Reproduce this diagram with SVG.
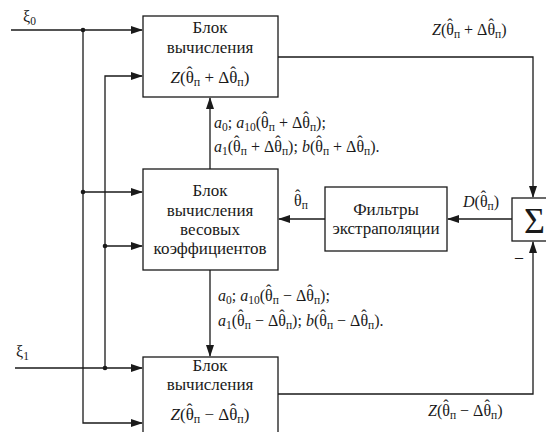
<svg xmlns="http://www.w3.org/2000/svg" width="546" height="432" viewBox="0 0 546 432">
<defs>
<marker id="ar" markerWidth="12" markerHeight="8" refX="11" refY="4" orient="auto" markerUnits="userSpaceOnUse">
<path d="M0,0 L12,4 L0,8 Z" fill="#1a1a1a"/>
</marker>
</defs>
<rect width="546" height="432" fill="#fff"/>

<g id="connectors" fill="none" stroke="#1a1a1a" stroke-width="1.3">
<polyline points="11,30 142,30" marker-end="url(#ar)"/>
<polyline points="83,30 83,423 142,423" marker-end="url(#ar)"/>
<polyline points="83,192 142,192" marker-end="url(#ar)"/>
<polyline points="105,368 105,76 142,76" marker-end="url(#ar)"/>
<polyline points="105,246 142,246" marker-end="url(#ar)"/>
<polyline points="15,368 142,368" marker-end="url(#ar)"/>
<polyline points="210,169 210,98" marker-end="url(#ar)"/>
<polyline points="210,270 210,356" marker-end="url(#ar)"/>
<polyline points="278,57 533,57 533,197" marker-end="url(#ar)"/>
<polyline points="278,394 533,394 533,242" marker-end="url(#ar)"/>
<polyline points="512,219 448,219" marker-end="url(#ar)"/>
<polyline points="325,219 279,219" marker-end="url(#ar)"/>
<g fill="#1a1a1a" stroke="none">
<circle cx="83" cy="30" r="2.3"/>
<circle cx="83" cy="192" r="2.3"/>
<circle cx="105" cy="246" r="2.3"/>
<circle cx="105" cy="368" r="2.3"/>
</g>
</g>

<g id="labels" fill="#1a1a1a" stroke="none" font-size="16">
<text style="font-family:'Liberation Serif',serif" x="23" y="22">ξ<tspan font-size="11.5" dy="3">0</tspan></text>
<text style="font-family:'Liberation Serif',serif" x="16" y="357">ξ<tspan font-size="11.5" dy="3">1</tspan></text>
<text style="font-family:'Liberation Serif',serif" x="214" y="128"><tspan font-style="italic">a</tspan><tspan font-size="11.5" dy="3">0</tspan><tspan dy="-3">;  </tspan><tspan font-style="italic">a</tspan><tspan font-size="11.5" dy="3">10</tspan><tspan dy="-3">(θ</tspan><tspan dx="-6.7" dy="-5">ˆ</tspan><tspan font-size="11.5" dx="1.4" dy="8">п</tspan><tspan dy="-3"> + Δθ</tspan><tspan dx="-6.7" dy="-5">ˆ</tspan><tspan font-size="11.5" dx="1.4" dy="8">п</tspan><tspan dy="-3">);</tspan></text>
<text style="font-family:'Liberation Serif',serif" x="214" y="152"><tspan font-style="italic">a</tspan><tspan font-size="11.5" dy="3">1</tspan><tspan dy="-3">(θ</tspan><tspan dx="-6.7" dy="-5">ˆ</tspan><tspan font-size="11.5" dx="1.4" dy="8">п</tspan><tspan dy="-3"> + Δθ</tspan><tspan dx="-6.7" dy="-5">ˆ</tspan><tspan font-size="11.5" dx="1.4" dy="8">п</tspan><tspan dy="-3">);  </tspan><tspan font-style="italic">b</tspan><tspan>(θ</tspan><tspan dx="-6.7" dy="-5">ˆ</tspan><tspan font-size="11.5" dx="1.4" dy="8">п</tspan><tspan dy="-3"> + Δθ</tspan><tspan dx="-6.7" dy="-5">ˆ</tspan><tspan font-size="11.5" dx="1.4" dy="8">п</tspan><tspan dy="-3">).</tspan></text>
<text style="font-family:'Liberation Serif',serif" x="218" y="301"><tspan font-style="italic">a</tspan><tspan font-size="11.5" dy="3">0</tspan><tspan dy="-3">; </tspan><tspan font-style="italic">a</tspan><tspan font-size="11.5" dy="3">10</tspan><tspan dy="-3">(θ</tspan><tspan dx="-6.7" dy="-5">ˆ</tspan><tspan font-size="11.5" dx="1.4" dy="8">п</tspan><tspan dy="-3"> − Δθ</tspan><tspan dx="-6.7" dy="-5">ˆ</tspan><tspan font-size="11.5" dx="1.4" dy="8">п</tspan><tspan dy="-3">);</tspan></text>
<text style="font-family:'Liberation Serif',serif" x="218" y="326"><tspan font-style="italic">a</tspan><tspan font-size="11.5" dy="3">1</tspan><tspan dy="-3">(θ</tspan><tspan dx="-6.7" dy="-5">ˆ</tspan><tspan font-size="11.5" dx="1.4" dy="8">п</tspan><tspan dy="-3"> − Δθ</tspan><tspan dx="-6.7" dy="-5">ˆ</tspan><tspan font-size="11.5" dx="1.4" dy="8">п</tspan><tspan dy="-3">); </tspan><tspan font-style="italic">b</tspan><tspan>(θ</tspan><tspan dx="-6.7" dy="-5">ˆ</tspan><tspan font-size="11.5" dx="1.4" dy="8">п</tspan><tspan dy="-3"> − Δθ</tspan><tspan dx="-6.7" dy="-5">ˆ</tspan><tspan font-size="11.5" dx="1.4" dy="8">п</tspan><tspan dy="-3">).</tspan></text>
<text style="font-family:'Liberation Serif',serif" x="432" y="35"><tspan font-style="italic">Z</tspan><tspan>(θ</tspan><tspan dx="-6.7" dy="-5">ˆ</tspan><tspan font-size="11.5" dx="1.4" dy="8">п</tspan><tspan dy="-3"> + Δθ</tspan><tspan dx="-6.7" dy="-5">ˆ</tspan><tspan font-size="11.5" dx="1.4" dy="8">п</tspan><tspan dy="-3">)</tspan></text>
<text style="font-family:'Liberation Serif',serif" x="428" y="416"><tspan font-style="italic">Z</tspan><tspan>(θ</tspan><tspan dx="-6.7" dy="-5">ˆ</tspan><tspan font-size="11.5" dx="1.4" dy="8">п</tspan><tspan dy="-3"> − Δθ</tspan><tspan dx="-6.7" dy="-5">ˆ</tspan><tspan font-size="11.5" dx="1.4" dy="8">п</tspan><tspan dy="-3">)</tspan></text>
<text style="font-family:'Liberation Serif',serif" x="463" y="207"><tspan font-style="italic">D</tspan><tspan>(θ</tspan><tspan dx="-6.7" dy="-5">ˆ</tspan><tspan font-size="11.5" dx="1.4" dy="8">п</tspan><tspan dy="-3">)</tspan></text>
<text style="font-family:'Liberation Serif',serif" x="294" y="206">θ<tspan dx="-6.7" dy="-5">ˆ</tspan><tspan font-size="11.5" dx="1.4" dy="8">п</tspan></text>
<text style="font-family:'Liberation Serif',serif" x="515" y="262">–</text>
</g>

<g id="block-top">
<rect x="143" y="16" width="135" height="81" fill="#fff" stroke="#1a1a1a" stroke-width="1.3"/>
<g fill="#1a1a1a" font-size="17" text-anchor="middle">
<text style="font-family:'Liberation Serif',serif" x="210" y="33">Блок</text>
<text style="font-family:'Liberation Serif',serif" x="210" y="53">вычисления</text>
<text style="font-family:'Liberation Serif',serif" x="210" y="83"><tspan font-style="italic">Z</tspan><tspan>(θ</tspan><tspan dx="-7.1" dy="-5">ˆ</tspan><tspan font-size="12" dx="1.4" dy="8">п</tspan><tspan dy="-3"> + Δθ</tspan><tspan dx="-7.1" dy="-5">ˆ</tspan><tspan font-size="12" dx="1.4" dy="8">п</tspan><tspan dy="-3">)</tspan></text>
</g>
</g>

<g id="block-weights">
<rect x="143" y="169" width="135" height="101" fill="#fff" stroke="#1a1a1a" stroke-width="1.3"/>
<g fill="#1a1a1a" font-size="17" text-anchor="middle">
<text style="font-family:'Liberation Serif',serif" x="210" y="196">Блок</text>
<text style="font-family:'Liberation Serif',serif" x="210" y="216">вычисления</text>
<text style="font-family:'Liberation Serif',serif" x="210" y="235">весовых</text>
<text style="font-family:'Liberation Serif',serif" x="210" y="254">коэффициентов</text>
</g>
</g>

<g id="block-filter">
<rect x="325" y="187" width="122" height="64" fill="#fff" stroke="#1a1a1a" stroke-width="1.3"/>
<g fill="#1a1a1a" font-size="17" text-anchor="middle">
<text style="font-family:'Liberation Serif',serif" x="386" y="215">Фильтры</text>
<text style="font-family:'Liberation Serif',serif" x="386" y="234">экстраполяции</text>
</g>
</g>

<g id="block-sum">
<rect x="512" y="198" width="44" height="43" fill="#fff" stroke="#1a1a1a" stroke-width="1.3"/>
<text style="font-family:'Liberation Serif',serif" fill="#1a1a1a" font-size="36" x="524" y="233">Σ</text>
</g>

<g id="block-bottom">
<rect x="143" y="357" width="135" height="90" fill="#fff" stroke="#1a1a1a" stroke-width="1.3"/>
<g fill="#1a1a1a" font-size="17" text-anchor="middle">
<text style="font-family:'Liberation Serif',serif" x="210" y="371">Блок</text>
<text style="font-family:'Liberation Serif',serif" x="210" y="390">вычисления</text>
<text style="font-family:'Liberation Serif',serif" x="210" y="420"><tspan font-style="italic">Z</tspan><tspan>(θ</tspan><tspan dx="-7.1" dy="-5">ˆ</tspan><tspan font-size="12" dx="1.4" dy="8">п</tspan><tspan dy="-3"> − Δθ</tspan><tspan dx="-7.1" dy="-5">ˆ</tspan><tspan font-size="12" dx="1.4" dy="8">п</tspan><tspan dy="-3">)</tspan></text>
</g>
</g>
</svg>
